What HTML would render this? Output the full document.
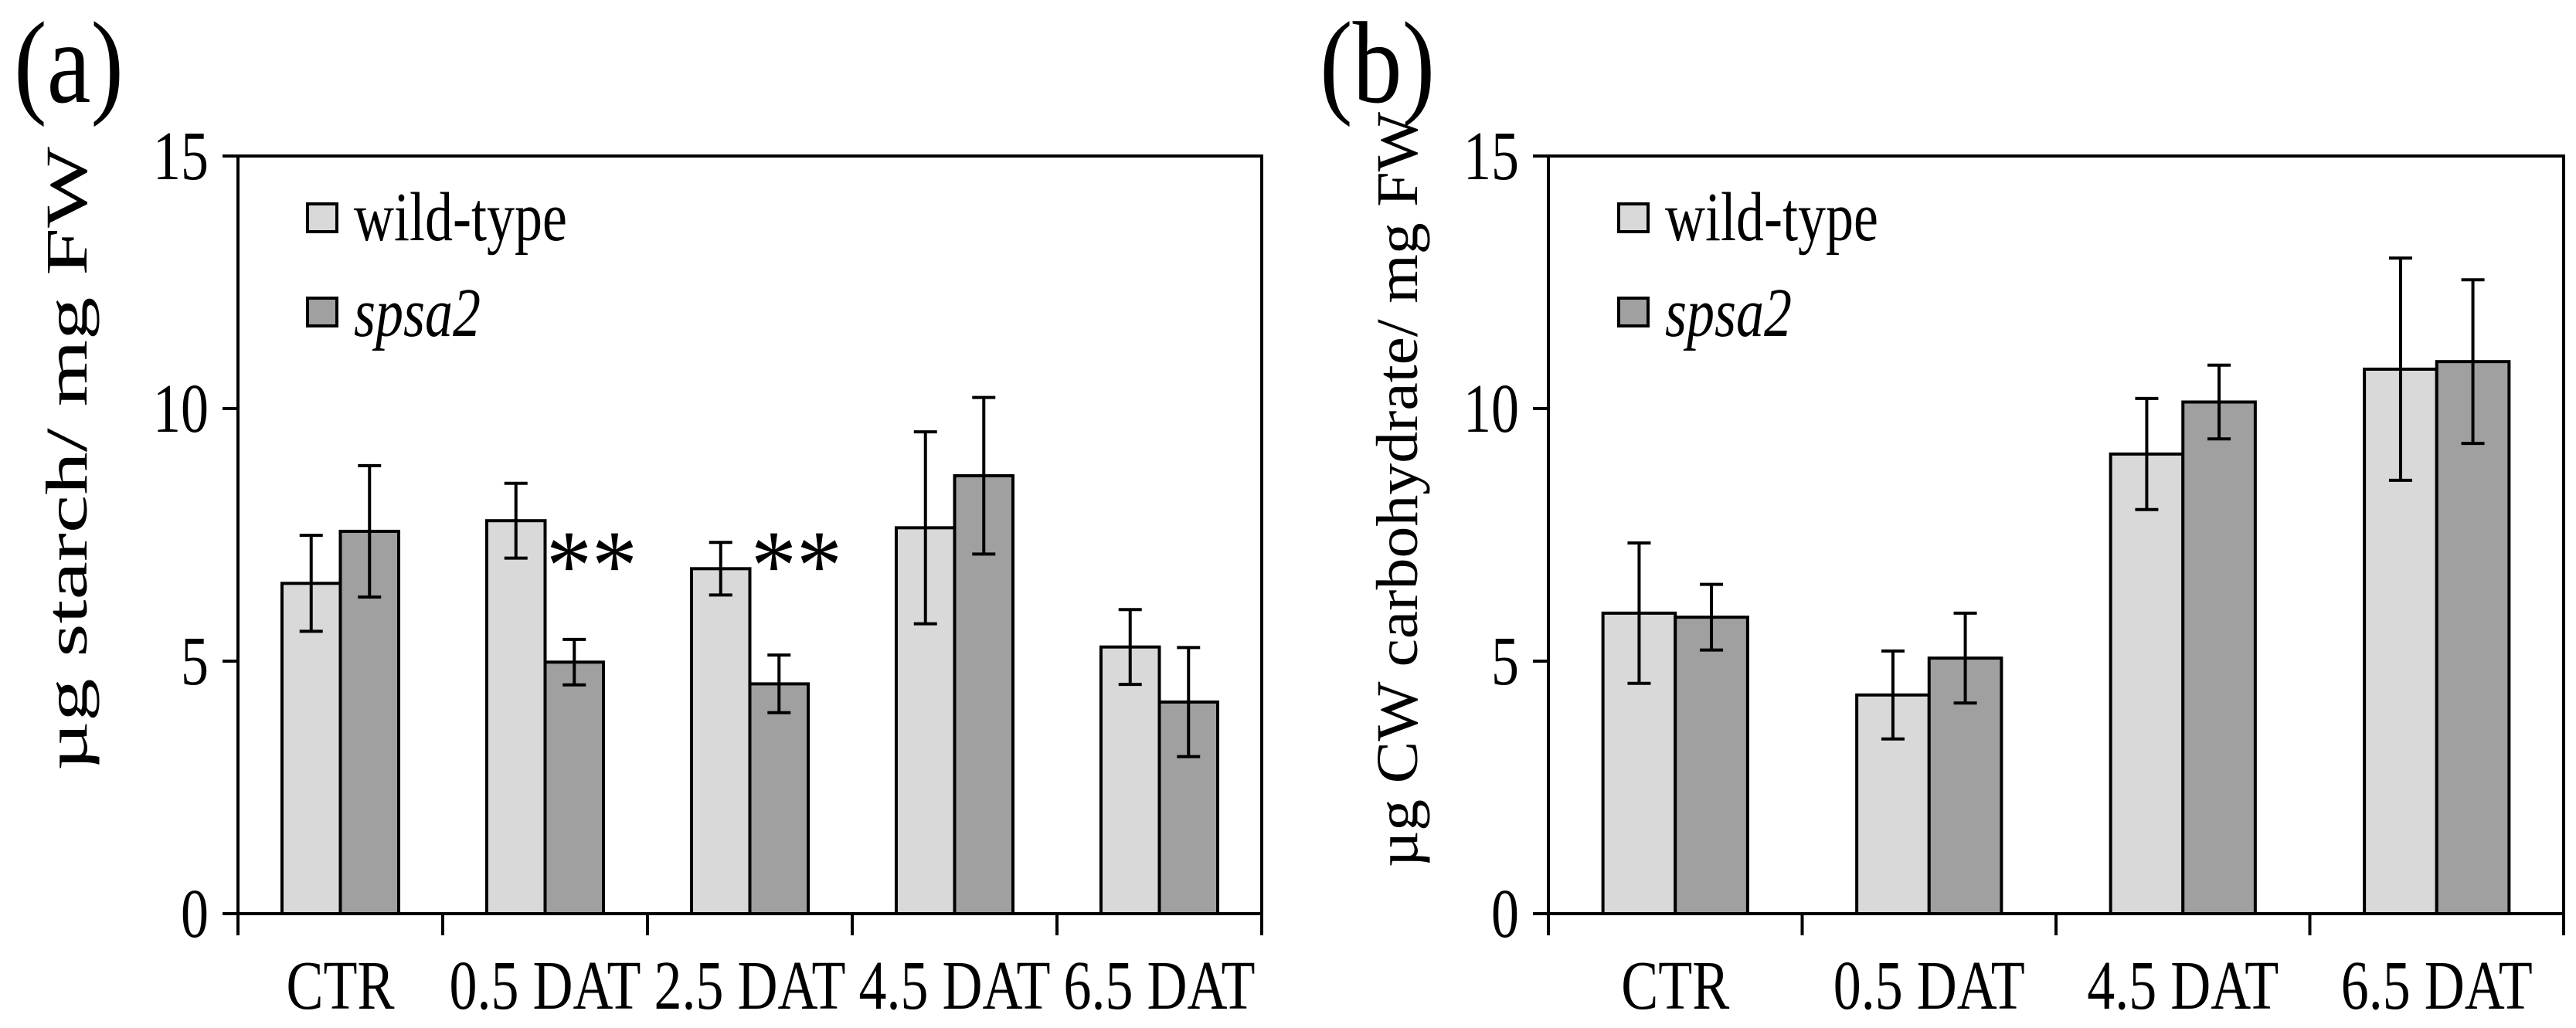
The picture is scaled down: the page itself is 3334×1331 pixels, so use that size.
<!DOCTYPE html>
<html><head><meta charset="utf-8"><style>
html,body{margin:0;padding:0;background:#fff}
svg{display:block}
text{font-family:"Liberation Serif",serif;fill:#000}
</style></head><body>
<svg id="chart" width="3334" height="1331" viewBox="0 0 3334 1331" xmlns="http://www.w3.org/2000/svg"></svg>
<script>
const catsA = ["CTR","0.5 DAT","2.5 DAT","4.5 DAT","6.5 DAT"];
const wtA = [6.54,7.78,6.83,7.64,5.28];
const wtErrA = [0.95,0.74,0.52,1.9,0.74];
const mutA = [7.57,4.98,4.55,8.67,4.19];
const mutErrA = [1.3,0.45,0.57,1.55,1.08];
const sigA = ["","**","**","",""];
const sigLevelA = [0,7.3,7.3,0,0];
const catsB = ["CTR","0.5 DAT","4.5 DAT","6.5 DAT"];
const wtB = [5.95,4.33,9.1,10.78];
const wtErrB = [1.39,0.87,1.1,2.2];
const mutB = [5.87,5.06,10.13,10.93];
const mutErrB = [0.65,0.89,0.73,1.62];
const yTicks = [0,5,10,15];

const NS="http://www.w3.org/2000/svg";
const svg=document.getElementById('chart');
const SY=1.25;
function mk(tag,attrs,parent,txt){const e=document.createElementNS(NS,tag);for(const k in attrs)e.setAttribute(k,attrs[k]);if(txt!==undefined)e.textContent=txt;(parent||svg).appendChild(e);return e;}
function txt(x,y,s,attrs,parent,sy){
  const a=Object.assign({x:0,y:0,transform:`translate(${x},${y}) scale(1,${sy||SY})`},attrs);
  return mk('text',a,parent,s);
}

function panel(p){
  const g=mk('g',{});
  
  
  const y0=1183,y15=202;
  const y=v=>y0-(y0-y15)*v/15;
  const n=p.cats.length, gw=(p.right-p.left)/n, bw=gw*0.285;
  const x=i=>p.left+gw*i;
  const fr=mk('rect',{x:p.left,y:y15,width:p.right-p.left,height:y0-y15,fill:'none',stroke:'#000','stroke-width':4},g);
  
  
  yTicks.forEach(t=>{
    const l=mk('line',{x1:p.left-20,x2:p.left,y1:y(t),y2:y(t),stroke:'#000','stroke-width':4},g);
    
    
    const tx=txt(p.left-38,y(t)+30,String(t),{'text-anchor':'end','font-size':72},g);
    
    
  });
  for(let i=0;i<=n;i++){
    const l=mk('line',{x1:x(i),x2:x(i),y1:y0,y2:y0+28,stroke:'#000','stroke-width':4},g);
    
    
  }
  p.cats.forEach((c,i)=>{
    const cx=x(i)+gw/2;
    const tx=txt(cx,1306,c,{'text-anchor':'middle','font-size':72},g);
    
    
    const s=[[p.wt,p.wtErr,'#d9d9d9',cx-bw,'bar-wild-type'],[p.mut,p.mutErr,'#a0a0a0',cx,'bar-spsa2']];
    s.forEach(([vals,errs,fill,bx,nm])=>{
      const v=vals[i];
      const r=mk('rect',{x:bx,y:y(v),width:bw,height:y0-y(v),fill:fill,stroke:'#000','stroke-width':4},g);
      
      
      const ex=bx+bw/2, e=errs[i];
      const eg=mk('g',{stroke:'#000','stroke-width':4},g);
      
      
      mk('line',{x1:ex,x2:ex,y1:y(v+e),y2:y(v-e)},eg);
      mk('line',{x1:ex-15,x2:ex+15,y1:y(v+e),y2:y(v+e)},eg);
      mk('line',{x1:ex-15,x2:ex+15,y1:y(v-e),y2:y(v-e)},eg);
    });
    if(p.sig && p.sig[i]){
      const st=txt(cx+bw*0.8,y(p.sigLevel[i])+70,p.sig[i],{'text-anchor':'middle','font-size':118,'font-family':'Liberation Sans, sans-serif'},g,1.1);
      
      
    }
  });
  const lg=mk('g',{},g);
  
  
  const b1=mk('rect',{x:p.legX,y:264,width:38,height:36,fill:'#d9d9d9',stroke:'#000','stroke-width':4},lg);
  
  
  const t1=txt(p.legX+60,311,'wild-type',{'font-size':72},lg);
  
  
  const b2=mk('rect',{x:p.legX,y:386,width:38,height:36,fill:'#a0a0a0',stroke:'#000','stroke-width':4},lg);
  
  
  const t2=txt(p.legX+60,435,'spsa2',{'font-size':72,'font-style':'italic'},lg);
  
  
  const yt=mk('text',{x:0,y:0,'text-anchor':'middle','font-size':76,textLength:p.titleLen,lengthAdjust:'spacingAndGlyphs',transform:`translate(${p.titleX},${p.titleY}) rotate(-90)`},g,p.title);
  
  
  const pl=txt(p.labX,132,p.label,{'font-size':128},g,1.18);
  
  
}
panel({name:'panel-a-starch-chart',left:308,right:1633,cats:catsA,wt:wtA,wtErr:wtErrA,mut:mutA,mutErr:mutErrA,sig:sigA,sigLevel:sigLevelA,legX:398,title:'µg starch/ mg FW',titleLen:808,titleX:112,titleY:594,label:'(a)',labX:18});
panel({name:'panel-b-cw-chart',left:2004,right:3318,cats:catsB,wt:wtB,wtErr:wtErrB,mut:mutB,mutErr:mutErrB,sig:null,legX:2095,title:'µg CW carbohydrate/ mg FW',titleLen:978,titleX:1834,titleY:634,label:'(b)',labX:1708});
</script>
</body></html>
